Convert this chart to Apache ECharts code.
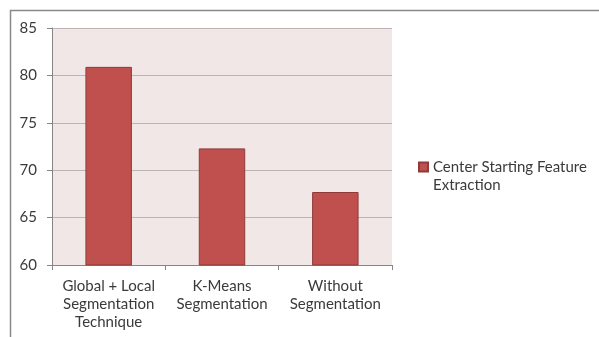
<!DOCTYPE html>
<html>
<head>
<meta charset="utf-8">
<script src="https://cdn.jsdelivr.net/npm/echarts@6/dist/echarts.min.js"></script>
<style>html,body{margin:0;padding:0;background:#fff}#c{width:599px;height:337px}</style>
</head>
<body>
<div id="c"></div>
<script>
const categories = ['Global + Local\nSegmentation\nTechnique', 'K-Means\nSegmentation', 'Without\nSegmentation'];
const seriesName = 'Center Starting Feature Extraction';
const values = [80.9, 72.3, 67.7];
const yMin = 60, yMax = 85, yStep = 5;

const chart = echarts.init(document.getElementById('c'));
const font = 'Lato, "Liberation Sans", sans-serif';
chart.setOption({
  animation: false,
  backgroundColor: '#ffffff',
  graphic: [{
    type: 'rect', shape: {x: 10.5, y: 10.5, width: 700, height: 400},
    style: {fill: 'none', stroke: '#8a8a8a', lineWidth: 1.5}, silent: true
  }],
  grid: {left: 52, top: 28, right: 207, bottom: 72, show: true, backgroundColor: '#F2E7E7', borderWidth: 0},
  legend: {
    left: 418, top: 140, orient: 'vertical', padding: 0,
    itemWidth: 9, itemHeight: 9, icon: 'rect',
    formatter: () => ' \nCenter Starting Feature\nExtraction',
    textStyle: {fontFamily: font, fontSize: 15, color: '#3a3a3a', lineHeight: 18},
    data: [seriesName]
  },
  xAxis: {
    type: 'category', data: categories,
    axisLine: {lineStyle: {color: '#868686'}},
    axisTick: {show: true, length: 5, lineStyle: {color: '#868686'}},
    axisLabel: {fontFamily: font, fontSize: 15, color: '#3a3a3a', lineHeight: 18, margin: 12, interval: 0}
  },
  yAxis: {
    type: 'value', min: yMin, max: yMax, interval: yStep,
    axisLine: {show: true, lineStyle: {color: '#868686'}},
    axisTick: {show: true, length: 5, lineStyle: {color: '#868686'}},
    axisLabel: {fontFamily: font, fontSize: 15, color: '#3a3a3a', margin: 15},
    splitLine: {lineStyle: {color: '#BDB5B5'}}
  },
  series: [{
    name: seriesName, type: 'bar', data: values, barWidth: '41%',
    itemStyle: {color: '#C0504D', borderColor: '#8E3B39', borderWidth: 1}
  }]
});
</script>
</body>
</html>
